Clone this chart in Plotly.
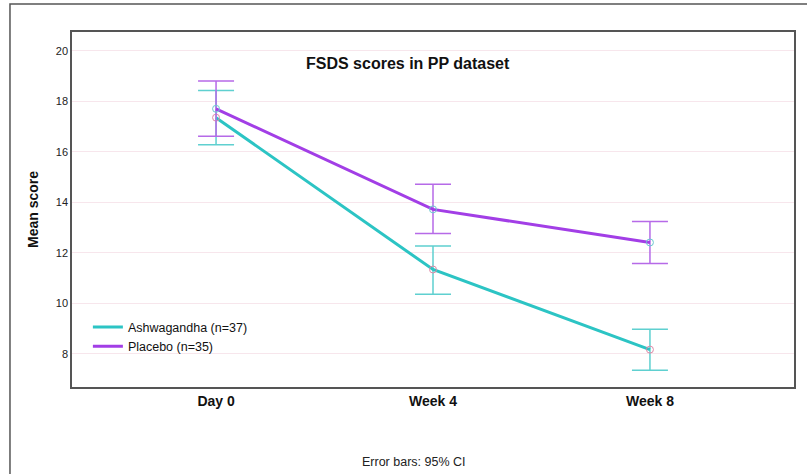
import plotly.graph_objects as go

categories = ["Day 0", "Week 4", "Week 8"]
ash_mean = [17.35, 11.34, 8.17]
ash_upper = [18.42, 12.27, 8.98]
ash_lower = [16.28, 10.36, 7.35]
pla_mean = [17.70, 13.72, 12.41]
pla_upper = [18.80, 14.71, 13.24]
pla_lower = [16.61, 12.77, 11.58]
y_ticks = [8, 10, 12, 14, 16, 18, 20]
series_names = ["Ashwagandha (n=37)", "Placebo (n=35)"]

TEAL = "#2cc4c4"
TEAL_EB = "#5fd0d0"
PURPLE = "#a23ee6"
PURPLE_EB = "#b66ae8"
FONT = "Liberation Sans, Arial, sans-serif"

x_idx = list(range(len(categories)))

fig = go.Figure()

def add_series(name, mean, up, lo, color, ebcolor, mcolor):
    fig.add_trace(go.Scatter(
        x=x_idx, y=mean, name=name, mode="lines+markers", showlegend=False,
        line=dict(color=color, width=3),
        marker=dict(symbol="circle-open", size=7, color=mcolor, line=dict(width=1)),
        error_y=dict(type="data", symmetric=False,
                     array=[u - m for u, m in zip(up, mean)],
                     arrayminus=[m - l for m, l in zip(mean, lo)],
                     color=ebcolor, thickness=1.5, width=18),
    ))
    fig.add_trace(go.Scatter(x=[None], y=[None], name=name, mode="lines",
                             line=dict(color=color, width=3), showlegend=True))

add_series(series_names[0], ash_mean, ash_upper, ash_lower, TEAL, TEAL_EB, "#e08aa8")
add_series(series_names[1], pla_mean, pla_upper, pla_lower, PURPLE, PURPLE_EB, "#6cc8d0")

fig.update_layout(
    width=807, height=474,
    margin=dict(l=72, r=13, t=32, b=87, autoexpand=False),
    paper_bgcolor="white", plot_bgcolor="white",
    font=dict(family=FONT, color="#111"),
    showlegend=True,
    legend=dict(x=0.022, y=0.141, xanchor="left", yanchor="middle",
                bgcolor="rgba(0,0,0,0)", font=dict(size=12.5, color="#111"),
                tracegroupgap=0, itemwidth=30),
    xaxis=dict(range=[-0.664, 2.664], tickvals=x_idx, ticktext=categories,
               tickfont=dict(size=14, color="#111", family=FONT, weight="bold"),
               showgrid=False, zeroline=False, showline=True, mirror=True,
               linecolor="#555", linewidth=1.5, ticks="", automargin=False),
    yaxis=dict(range=[6.69, 20.74], tickvals=y_ticks,
               tickfont=dict(size=11, color="#222"),
               showgrid=True, gridcolor="#f7e6ec", gridwidth=1,
               zeroline=False, showline=True, mirror=True,
               linecolor="#555", linewidth=1.5, ticks="", automargin=False,
               title=dict(text="Mean score", font=dict(size=14, weight="bold", color="#111"),
                          standoff=14)),
)

fig.add_annotation(text="FSDS scores in PP dataset", xref="paper", yref="paper",
                   x=0.466, y=0.94, showarrow=False,
                   font=dict(size=16, weight="bold", color="#111"))
fig.add_annotation(text="Error bars: 95% CI", xref="paper", yref="paper",
                   x=0.473, y=-0.212, showarrow=False, yanchor="middle",
                   font=dict(size=12.5, color="#222"))

fig.add_shape(type="rect", xref="paper", yref="paper",
              x0=-0.0859, x1=1.03, y0=-0.3, y1=1.0789,
              line=dict(color="#555", width=1.5), fillcolor="rgba(0,0,0,0)", layer="below")

fig.write_html("out.html", config={"displayModeBar": False},
               post_script="document.body.style.margin='0';")
